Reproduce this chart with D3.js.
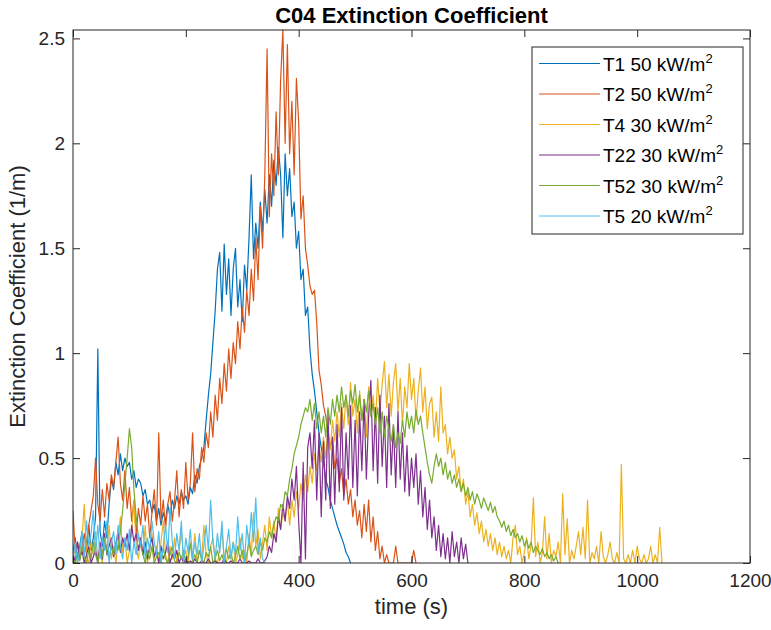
<!DOCTYPE html>
<html><head><meta charset="utf-8">
<script src="https://cdn.jsdelivr.net/npm/d3@7/dist/d3.min.js"></script>
<style>
body{margin:0;background:#fff}
text{font-family:Arial,"Liberation Sans",Helvetica,sans-serif}
</style>
</head><body>
<svg id="chart" width="771" height="630"></svg>
<script>
// ---- data ----
const timeStep = 4; // seconds between samples
const chartTitle = "C04 Extinction Coefficient";
const xLabel = "time (s)";
const yLabel = "Extinction Coefficient (1/m)";
const xTicks = [0, 200, 400, 600, 800, 1000, 1200];
const yTicks = [0, 0.5, 1, 1.5, 2, 2.5];
const seriesNames = ["T1 50 kW/m", "T2 50 kW/m", "T4 30 kW/m", "T22 30 kW/m", "T52 30 kW/m", "T5 20 kW/m"];

const t1Values = [
0.05,0.12,0.02,0.08,0.15,0.04,0.10,0.18,0.06,0.12,
0.22,1.02,0.15,0.08,0.20,0.12,0.28,0.40,0.35,0.48,
0.42,0.52,0.44,0.50,0.46,0.48,0.40,0.44,0.36,0.40,
0.38,0.32,0.35,0.28,0.30,0.24,0.28,0.20,0.26,0.18,
0.24,0.20,0.28,0.22,0.30,0.26,0.32,0.28,0.34,0.30,
0.32,0.28,0.36,0.33,0.42,0.38,0.46,0.50,0.55,0.68,
0.80,0.90,1.05,1.20,1.40,1.48,1.20,1.52,1.28,1.45,
1.18,1.40,1.50,1.22,1.35,1.15,1.42,1.30,1.55,1.85,
1.45,1.62,1.50,1.72,1.58,1.78,1.62,1.85,1.70,1.92,
1.80,1.98,1.85,1.55,1.95,1.75,1.88,1.65,1.72,1.50,
1.58,1.35,1.40,1.18,1.22,1.02,0.90,0.82,0.72,0.62,
0.55,0.48,0.40,0.36,0.30,0.26,0.22,0.18,0.15,0.12,
0.09,0.05,0.03,0.00];

const t2Values = [
0.25,0.05,0.10,0.02,0.08,0.14,0.05,0.18,0.25,0.32,
0.50,0.28,0.20,0.35,0.22,0.38,0.30,0.42,0.36,0.48,
0.60,0.38,0.30,0.44,0.26,0.36,0.20,0.30,0.14,0.26,
0.18,0.32,0.20,0.28,0.12,0.24,0.35,0.18,0.62,0.20,
0.30,0.16,0.28,0.34,0.20,0.30,0.44,0.22,0.35,0.26,
0.48,0.30,0.38,0.62,0.34,0.45,0.40,0.55,0.48,0.62,
0.55,0.72,0.60,0.80,0.68,0.88,0.76,0.95,0.82,1.02,
0.88,1.05,0.95,1.15,1.02,1.22,1.10,1.30,1.18,1.40,
1.25,1.55,1.35,1.70,1.50,1.85,2.45,1.65,1.95,1.75,
2.15,1.85,2.30,2.54,2.00,2.47,1.95,2.20,1.85,2.31,
2.10,1.64,1.75,1.50,1.42,1.32,1.28,1.30,1.15,0.92,
0.85,0.75,0.70,0.62,0.55,0.60,0.45,0.50,0.38,0.45,
0.32,0.40,0.28,0.35,0.22,0.30,0.18,0.25,0.12,0.28,
0.15,0.30,0.10,0.22,0.06,0.15,0.02,0.08,0.00,0.04,
0.00,0.00,0.00,0.08,0.00,0.00,0.00,0.00,0.00,0.00,
0.00,0.06,0.00];

const t4Values = [
0.02,0.08,0.00,0.05,0.12,0.28,0.03,0.00,0.10,0.04,
0.15,0.02,0.06,0.00,0.12,0.05,0.18,0.02,0.08,0.00,
0.10,0.22,0.05,0.12,0.00,0.06,0.15,0.30,0.08,0.02,
0.12,0.04,0.18,0.00,0.06,0.14,0.02,0.08,0.00,0.10,
0.20,0.04,0.00,0.08,0.02,0.12,0.00,0.05,0.16,0.02,
0.06,0.00,0.10,0.03,0.14,0.00,0.06,0.02,0.18,0.04,
0.00,0.08,0.12,0.02,0.00,0.06,0.16,0.03,0.00,0.08,
0.02,0.10,0.00,0.04,0.12,0.02,0.06,0.00,0.14,0.04,
0.24,0.08,0.16,0.02,0.10,0.18,0.06,0.22,0.12,0.20,
0.10,0.26,0.16,0.24,0.20,0.30,0.18,0.30,0.22,0.34,
0.26,0.38,0.30,0.42,0.34,0.46,0.38,0.52,0.44,0.56,
0.48,0.60,0.50,0.64,0.54,0.68,0.58,0.72,0.60,0.76,
0.64,0.80,0.66,0.86,0.70,0.78,0.62,0.82,0.68,0.76,
0.60,0.84,0.70,0.80,0.66,0.88,0.72,0.85,0.96,0.74,
0.90,0.70,0.86,0.95,0.72,0.88,0.66,0.84,0.74,0.95,
0.78,0.88,0.68,0.82,0.93,0.72,0.84,0.64,0.76,0.79,
0.60,0.72,0.58,0.84,0.62,0.66,0.52,0.60,0.50,0.54,
0.40,0.46,0.34,0.40,0.28,0.34,0.22,0.28,0.18,0.24,
0.14,0.20,0.10,0.16,0.08,0.14,0.06,0.12,0.04,0.10,
0.03,0.08,0.02,0.06,0.00,0.12,0.18,0.04,0.08,0.00,
0.05,0.12,0.02,0.08,0.31,0.03,0.10,0.00,0.05,0.22,
0.02,0.14,0.00,0.06,0.03,0.10,0.00,0.33,0.04,0.21,
0.00,0.06,0.02,0.08,0.15,0.04,0.17,0.02,0.30,0.00,
0.05,0.02,0.08,0.00,0.15,0.03,0.00,0.04,0.10,0.02,
0.00,0.05,0.00,0.47,0.02,0.00,0.04,0.00,0.06,0.00,
0.08,0.02,0.00,0.04,0.00,0.02,0.08,0.00,0.04,0.00,
0.17,0.00];

const t22Values = [
0.05,0.00,0.10,0.02,0.06,0.00,0.04,0.08,0.00,0.03,
0.06,0.00,0.10,0.02,0.14,0.04,0.08,0.12,0.03,0.09,
0.15,0.05,0.12,0.08,0.14,0.06,0.18,0.10,0.14,0.06,
0.12,0.04,0.10,0.02,0.08,0.12,0.03,0.06,0.00,0.08,
0.02,0.05,0.10,0.00,0.04,0.02,0.06,0.00,0.03,0.00,
0.02,0.00,0.01,0.00,0.02,0.00,0.00,0.01,0.00,0.00,
0.02,0.00,0.00,0.01,0.00,0.00,0.00,0.02,0.00,0.00,
0.01,0.00,0.00,0.00,0.02,0.00,0.00,0.00,0.01,0.00,
0.00,0.00,0.02,0.00,0.00,0.01,0.03,0.08,0.05,0.14,
0.10,0.22,0.16,0.28,0.20,0.32,0.26,0.40,0.30,0.46,
0.20,0.00,0.48,0.02,0.55,0.62,0.45,0.68,0.30,0.62,
0.22,0.58,0.30,0.72,0.26,0.60,0.28,0.66,0.34,0.74,
0.30,0.62,0.40,0.75,0.36,0.68,0.32,0.72,0.44,0.78,
0.40,0.70,0.87,0.44,0.74,0.38,0.80,0.46,0.70,0.36,
0.76,0.42,0.66,0.36,0.72,0.40,0.62,0.34,0.56,0.32,
0.50,0.36,0.52,0.28,0.44,0.22,0.36,0.16,0.30,0.12,
0.22,0.06,0.18,0.03,0.14,0.02,0.12,0.00,0.15,0.03,
0.10,0.00,0.12,0.02,0.09,0.00];

const t52Values = [
0.02,0.00,0.05,0.01,0.08,0.03,0.00,0.06,0.02,0.10,
0.04,0.00,0.07,0.03,0.12,0.05,0.02,0.08,0.04,0.10,
0.06,0.15,0.25,0.38,0.50,0.64,0.55,0.35,0.22,0.12,
0.08,0.04,0.00,0.06,0.02,0.08,0.00,0.03,0.05,0.00,
0.07,0.02,0.00,0.04,0.08,0.01,0.00,0.05,0.02,0.06,
0.00,0.03,0.09,0.01,0.04,0.00,0.06,0.02,0.00,0.05,
0.03,0.08,0.00,0.02,0.06,0.01,0.04,0.00,0.07,0.02,
0.05,0.00,0.03,0.08,0.02,0.06,0.00,0.04,0.10,0.03,
0.06,0.08,0.04,0.10,0.06,0.12,0.10,0.15,0.12,0.18,
0.22,0.20,0.28,0.26,0.34,0.32,0.40,0.45,0.52,0.56,
0.60,0.66,0.70,0.74,0.72,0.78,0.68,0.76,0.64,0.72,
0.62,0.70,0.60,0.74,0.66,0.78,0.70,0.80,0.72,0.84,
0.74,0.80,0.70,0.82,0.76,0.85,0.72,0.80,0.68,0.78,
0.72,0.82,0.70,0.76,0.66,0.74,0.62,0.72,0.60,0.70,
0.64,0.58,0.66,0.55,0.62,0.57,0.68,0.60,0.72,0.64,
0.70,0.62,0.73,0.66,0.70,0.62,0.55,0.48,0.42,0.38,
0.46,0.52,0.46,0.50,0.42,0.48,0.40,0.44,0.38,0.42,
0.36,0.40,0.34,0.38,0.32,0.36,0.30,0.34,0.28,0.33,
0.30,0.26,0.31,0.28,0.25,0.29,0.24,0.27,0.22,0.20,
0.17,0.20,0.15,0.18,0.13,0.16,0.12,0.14,0.10,0.13,
0.08,0.11,0.07,0.10,0.05,0.08,0.06,0.04,0.07,0.03,
0.05,0.02,0.04,0.01,0.03,0.00];

const t5Values = [
0.02,0.10,0.00,0.06,0.15,0.03,0.20,0.08,0.14,0.25,
0.05,0.18,0.02,0.12,0.06,0.20,0.00,0.10,0.15,0.04,
0.18,0.08,0.02,0.12,0.06,0.16,0.00,0.10,0.04,0.14,
0.08,0.18,0.02,0.12,0.06,0.20,0.10,0.04,0.15,0.00,
0.08,0.18,0.05,0.26,0.10,0.02,0.14,0.06,0.20,0.00,
0.12,0.05,0.16,0.02,0.10,0.04,0.14,0.00,0.08,0.18,
0.06,0.30,0.10,0.02,0.14,0.05,0.20,0.00,0.08,0.16,
0.02,0.10,0.04,0.22,0.06,0.14,0.00,0.18,0.08,0.24,
0.10,0.31,0.05,0.12,0.02,0.00];

const seriesValues = [t1Values, t2Values, t4Values, t22Values, t52Values, t5Values];
const seriesColors = ["#0072BD", "#D95319", "#EDB120", "#7E2F8E", "#77AC30", "#4DBEEE"];

// ---- layout ----
const W = 771, H = 630;
const plot = {left: 73, right: 750, top: 30, bottom: 563};
const axisColor = "#262626";

const svg = d3.select("#chart");
svg.append("rect").attr("width", W).attr("height", H).attr("fill", "#fff");

const x = d3.scaleLinear().domain([0, 1200]).range([plot.left, plot.right]);
const y = d3.scaleLinear().domain([0, 2.54]).range([plot.bottom, plot.top]);

svg.append("clipPath").attr("id", "clip")
  .append("rect").attr("x", plot.left).attr("y", plot.top - 1)
  .attr("width", plot.right - plot.left).attr("height", plot.bottom - plot.top + 1);

// lines
const line = d3.line().x((d, i) => x(i * timeStep)).y(d => y(d));
const g = svg.append("g").attr("clip-path", "url(#clip)");
seriesValues.forEach((vals, k) => {
  g.append("path").datum(vals)
    .attr("d", line)
    .attr("fill", "none")
    .attr("stroke", seriesColors[k])
    .attr("stroke-width", 1.2)
    .attr("stroke-linejoin", "round");
});

// axes
const tickLen = 7;
const fontTick = 19;
function styleAxis(sel) {
  sel.select(".domain").remove();
  sel.selectAll("line").attr("stroke", axisColor).attr("stroke-width", 1);
  sel.selectAll("text").attr("fill", axisColor).attr("font-size", fontTick).attr("font-family", "Arial, 'Liberation Sans', sans-serif");
}
const fmt = d => d3.format("")(d);
svg.append("g").attr("transform", `translate(0,${plot.bottom})`)
  .call(d3.axisBottom(x).tickValues(xTicks).tickSize(-tickLen).tickPadding(11).tickFormat(fmt))
  .call(styleAxis);
svg.append("g").attr("transform", `translate(0,${plot.top})`)
  .call(d3.axisTop(x).tickValues(xTicks).tickSize(-tickLen).tickFormat(""))
  .call(styleAxis);
svg.append("g").attr("transform", `translate(${plot.left},0)`)
  .call(d3.axisLeft(y).tickValues(yTicks).tickSize(-tickLen).tickPadding(8).tickFormat(fmt))
  .call(styleAxis);
svg.append("g").attr("transform", `translate(${plot.right},0)`)
  .call(d3.axisRight(y).tickValues(yTicks).tickSize(-tickLen).tickFormat(""))
  .call(styleAxis);

// box
svg.append("rect")
  .attr("x", plot.left).attr("y", plot.top)
  .attr("width", plot.right - plot.left).attr("height", plot.bottom - plot.top)
  .attr("fill", "none").attr("stroke", axisColor).attr("stroke-width", 1);

// title & labels
svg.append("text").attr("x", (plot.left + plot.right) / 2).attr("y", 23)
  .attr("text-anchor", "middle").attr("font-size", 22).attr("font-weight", "bold")
  .attr("fill", "#000").text(chartTitle);
svg.append("text").attr("x", (plot.left + plot.right) / 2).attr("y", 614)
  .attr("text-anchor", "middle").attr("font-size", 22).attr("fill", axisColor).text(xLabel);
svg.append("text").attr("transform", `translate(25,${(plot.top + plot.bottom) / 2}) rotate(-90)`)
  .attr("text-anchor", "middle").attr("font-size", 22).attr("fill", axisColor).text(yLabel);

// legend
const leg = {x: 532, y: 47, w: 211, h: 187, rowH: 30.5, first: 63.5};
svg.append("rect").attr("x", leg.x).attr("y", leg.y).attr("width", leg.w).attr("height", leg.h)
  .attr("fill", "#fff").attr("stroke", axisColor).attr("stroke-width", 1);
seriesNames.forEach((name, k) => {
  const cy = leg.first + k * leg.rowH;
  svg.append("line").attr("x1", leg.x + 7).attr("x2", leg.x + 68)
    .attr("y1", cy).attr("y2", cy).attr("stroke", seriesColors[k]).attr("stroke-width", 1);
  const t = svg.append("text").attr("x", leg.x + 71).attr("y", cy + 7)
    .attr("font-size", 19).attr("fill", "#000");
  t.append("tspan").text(name);
  t.append("tspan").attr("dy", -8).attr("font-size", 13).text("2");
});
</script>
</body></html>
